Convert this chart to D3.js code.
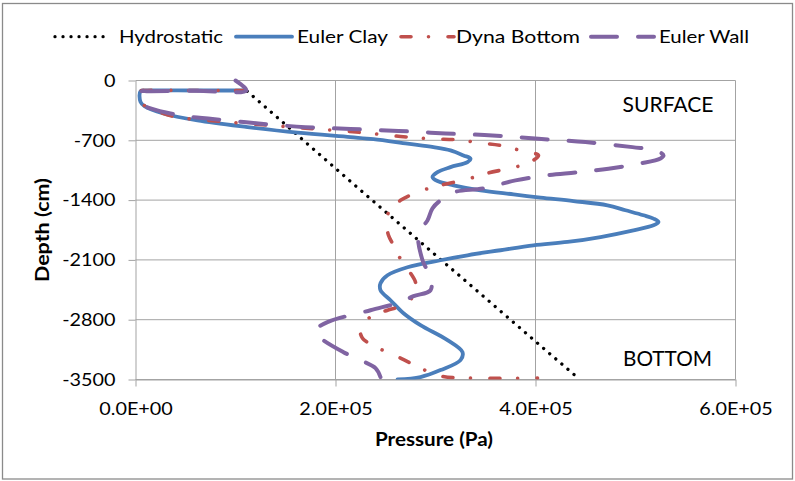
<!DOCTYPE html>
<html><head><meta charset="utf-8">
<script src="https://cdn.jsdelivr.net/npm/d3@7"></script>
<style>body{margin:0;background:#fff} svg{display:block}</style>
</head><body><svg id="c" width="795" height="481"></svg>
<script>
// ---------- data ----------
const seriesNames = ["Hydrostatic", "Euler Clay", "Dyna Bottom", "Euler Wall"];

const hydroPressure = [111700, 229000, 441000];
const hydroDepth    = [-125, -1325, -3468];

const clayPressure = [110000,60000,12000,5000,5000,9000,28000,62000,112000,162000,215000,238000,272000,298000,315000,328000,335000,332000,315000,302000,297000,302000,318000,345000,378000,405000,438000,472000,490000,508000,518000,523000,518000,498000,465000,432000,398000,365000,332000,305000,272000,252000,245000,245000,255000,268000,285000,312000,327000,325000,305000,285000,262000];
const clayDepth    = [-117,-117,-117,-125,-250,-300,-386,-468,-546,-611,-663,-687,-740,-780,-818,-877,-915,-955,-1014,-1072,-1130,-1177,-1227,-1286,-1333,-1371,-1411,-1461,-1519,-1578,-1617,-1656,-1695,-1754,-1832,-1890,-1929,-1987,-2046,-2104,-2186,-2280,-2373,-2455,-2572,-2724,-2864,-3039,-3180,-3273,-3390,-3472,-3500];

const dynaPressure = [110000,60000,12000,5000,5000,9000,15000,38000,85000,135000,178000,225000,265000,295000,325000,342000,365000,387000,403000,392000,372000,350000,330000,305000,285000,265000,254000,251000,253000,258000,264000,273000,280000,280000,278000,265000,252000,236000,225000,227000,243000,265000,285000,305000,335000,402000];
const dynaDepth    = [-117,-117,-117,-125,-250,-295,-327,-421,-479,-526,-565,-608,-655,-682,-696,-728,-760,-826,-877,-970,-1032,-1091,-1161,-1227,-1294,-1403,-1520,-1660,-1812,-1929,-2069,-2221,-2361,-2455,-2525,-2642,-2689,-2759,-2899,-3016,-3133,-3250,-3367,-3460,-3484,-3484];

const wallPressure = [100000,111000,60000,12000,5000,5000,9000,15000,45000,77000,123000,170000,215000,263000,310000,357000,403000,450000,497000,520000,528000,525000,505000,473000,442000,412000,380000,348000,318000,305000,297000,292000,283000,287000,295000,295000,278000,265000,235000,192000,180000,183000,208000,225000,240000,245000];
const wallDepth    = [0,-117,-121,-125,-133,-250,-295,-327,-409,-450,-503,-546,-567,-590,-620,-643,-682,-721,-780,-818,-877,-912,-970,-1032,-1075,-1110,-1169,-1263,-1309,-1403,-1496,-1637,-1789,-2104,-2303,-2455,-2525,-2595,-2689,-2829,-2923,-2993,-3180,-3273,-3367,-3472];

const xTickValues = [0, 200000, 400000, 600000];
const xTickLabels = ["0.0E+00", "2.0E+05", "4.0E+05", "6.0E+05"];
const yTickValues = [0, -700, -1400, -2100, -2800, -3500];
const yTickLabels = ["0", "-700", "-1400", "-2100", "-2800", "-3500"];
const annotations = ["SURFACE", "BOTTOM"];
const xTitle = "Pressure (Pa)";
const yTitle = "Depth (cm)";

// ---------- styles ----------
const FONT = "Lato, 'Open Sans', 'Liberation Sans', sans-serif";
const GRID = "#a3a3a3";
const styles = [
  {color: "#000000", width: 3.3, dash: "0.01,8", cap: "round"},
  {color: "#4a7ebb", width: 3.8, dash: null, cap: "round"},
  {color: "#c0504d", width: 3.6, dash: "10,17.5,0.01,19.5", cap: "round"},
  {color: "#8064a2", width: 4, dash: "26,21", cap: "round"}
];

const svg = d3.select("#c");
svg.append("rect").attr("x", 2.5).attr("y", 3.5).attr("width", 790).attr("height", 475.5)
  .attr("fill", "#fff").attr("stroke", "#8a8a8a").attr("stroke-width", 1.3);

const x = d3.scaleLinear().domain([0, 600000]).range([135.5, 735.5]);
const y = d3.scaleLinear().domain([-3500, 0]).range([379.5, 80.5]);

// gridlines
const g = svg.append("g");
g.selectAll(".hg").data(yTickValues).join("line")
  .attr("x1", x(0)).attr("x2", x(600000)).attr("y1", d => y(d)).attr("y2", d => y(d))
  .attr("stroke", GRID).attr("stroke-width", 1);
g.selectAll(".vg").data(xTickValues.slice(1)).join("line")
  .attr("x1", d => x(d)).attr("x2", d => x(d)).attr("y1", y(0)).attr("y2", y(-3500))
  .attr("stroke", GRID).attr("stroke-width", 1);

// axes
const yAxis = d3.axisLeft(y).tickValues(yTickValues).tickSize(7).tickSizeOuter(0).tickPadding(13)
  .tickFormat((d, i) => yTickLabels[i]);
const xAxis = d3.axisBottom(x).tickValues(xTickValues).tickSize(7).tickSizeOuter(0).tickPadding(16)
  .tickFormat((d, i) => xTickLabels[i]);
const ya = svg.append("g").attr("transform", `translate(${x(0)},0)`).call(yAxis);
const xa = svg.append("g").attr("transform", `translate(0,${y(-3500)})`).call(xAxis);
[ya, xa].forEach(a => {
  a.select(".domain").attr("stroke", GRID);
  a.selectAll(".tick line").attr("stroke", GRID);
  a.selectAll("text").attr("font-family", FONT).attr("font-size", 18).attr("fill", "#000")
    .each(function() {
      const w = this.getComputedTextLength();
      d3.select(this).attr("textLength", w * 1.1).attr("lengthAdjust", "spacingAndGlyphs");
    });
});
xa.selectAll("text").attr("dy", "0.71em");

// clip
svg.append("clipPath").attr("id", "clip").append("rect")
  .attr("x", x(0)).attr("y", y(0) - 12).attr("width", x(600000) - x(0)).attr("height", y(-3500) - y(0) + 12);

const series = [
  {p: hydroPressure, d: hydroDepth},
  {p: clayPressure, d: clayDepth},
  {p: dynaPressure, d: dynaDepth},
  {p: wallPressure, d: wallDepth}
];
const line = d3.line().x(v => x(v[0])).y(v => y(v[1])).curve(d3.curveCatmullRom.alpha(0.5));
const straight = d3.line().x(v => x(v[0])).y(v => y(v[1]));
const lg = svg.append("g").attr("clip-path", "url(#clip)");
series.forEach((s, i) => {
  const pts = s.p.map((p, j) => [p, s.d[j]]);
  lg.append("path").attr("d", (i === 0 ? straight : line)(pts))
    .attr("fill", "none").attr("stroke", styles[i].color).attr("stroke-width", styles[i].width)
    .attr("stroke-linecap", styles[i].cap).attr("stroke-linejoin", "round")
    .attr("stroke-dasharray", styles[i].dash);
});

// annotations
svg.append("text").attr("x", 668).attr("y", 111.5).attr("text-anchor", "middle")
  .attr("font-family", FONT).attr("font-size", 22).attr("textLength", 91).attr("lengthAdjust", "spacingAndGlyphs")
  .text(annotations[0]);
svg.append("text").attr("x", 667.5).attr("y", 366).attr("text-anchor", "middle")
  .attr("font-family", FONT).attr("font-size", 22).attr("textLength", 89).attr("lengthAdjust", "spacingAndGlyphs")
  .text(annotations[1]);

// axis titles
svg.append("text").attr("x", 434).attr("y", 446).attr("text-anchor", "middle")
  .attr("font-family", FONT).attr("font-size", 19).attr("font-weight", "bold")
  .attr("textLength", 118).attr("lengthAdjust", "spacingAndGlyphs").text(xTitle);
svg.append("text").attr("transform", "translate(49,230) rotate(-90)").attr("text-anchor", "middle")
  .attr("font-family", FONT).attr("font-size", 19).attr("font-weight", "bold")
  .attr("textLength", 104).attr("lengthAdjust", "spacingAndGlyphs").text(yTitle);

// legend
const legendPos = [[55, 104, 119, 104], [236, 292, 297, 91], [401, 454, 456, 124], [591, 654, 659, 90]];
const leg = svg.append("g");
seriesNames.forEach((n, i) => {
  const [a, b, t, w] = legendPos[i];
  leg.append("line").attr("x1", a).attr("x2", b).attr("y1", 36.7).attr("y2", 36.7)
    .attr("stroke", styles[i].color).attr("stroke-width", styles[i].width)
    .attr("stroke-linecap", styles[i].cap).attr("stroke-dasharray", styles[i].dash);
  leg.append("text").attr("x", t).attr("y", 43.3).attr("font-family", FONT).attr("font-size", 17)
    .attr("textLength", w).attr("lengthAdjust", "spacingAndGlyphs").text(n);
});
</script></body></html>
